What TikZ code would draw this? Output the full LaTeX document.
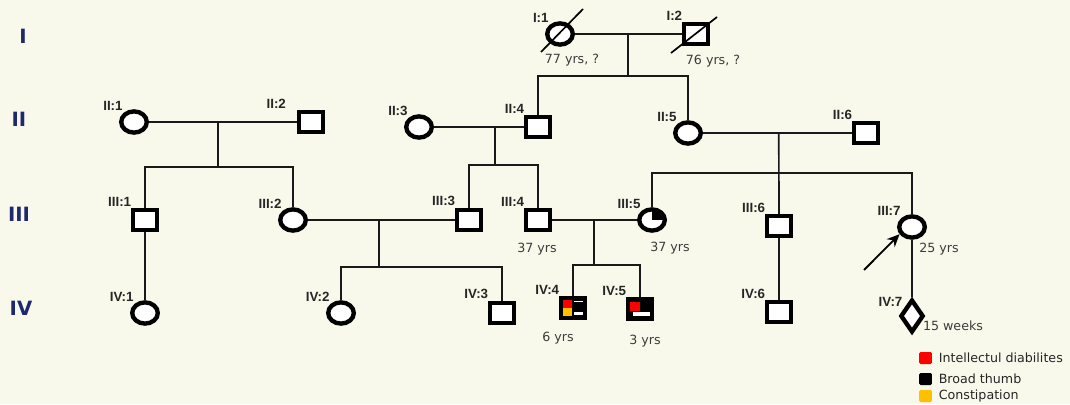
\documentclass[tikz,border=0pt]{standalone}
\usepackage{fontspec}
\setmainfont{DejaVu Sans}
\newfontfamily\idfont{Liberation Sans}
\usetikzlibrary{shapes.geometric, arrows.meta, positioning, calc}

\definecolor{paper}{RGB}{249,249,235}
\definecolor{gennavy}{RGB}{30,40,110}
\definecolor{traitred}{RGB}{255,0,0}
\definecolor{traityellow}{RGB}{255,192,0}
\definecolor{agegray}{RGB}{60,60,60}

\tikzstyle{male} = [
    rectangle,
    minimum width=0.6cm,
    minimum height=0.5cm,
    inner sep=0pt,
    line width=3.1pt,
    draw=black,
    fill=white
]
\tikzstyle{female} = [
    ellipse,
    minimum width=0.64cm,
    minimum height=0.53cm,
    inner sep=0pt,
    line width=3.1pt,
    draw=black,
    fill=white
]
\tikzstyle{unknown} = [
    diamond,
    minimum width=0.58cm,
    minimum height=0.82cm,
    inner sep=0pt,
    line width=3.1pt,
    draw=black,
    fill=white
]
\tikzstyle{idlabel} = [
    font=\idfont\bfseries\fontsize{9.5}{10}\selectfont,
    inner sep=1pt,
    text=black!85
]
\tikzstyle{age} = [font=\fontsize{9}{10}\selectfont, text=agegray, anchor=base, inner sep=0pt]
\tikzstyle{gen} = [font=\bfseries\fontsize{14}{16}\selectfont, text=gennavy]
\tikzstyle{line} = [line width=1.2pt, draw=black!90]
\tikzstyle{slash} = [line width=1.2pt, draw=black]
\tikzstyle{arrow} = [line width=1.3pt,-{Stealth[length=9pt,width=8pt]}]
\tikzstyle{keybox} = [rectangle, rounded corners=1pt, minimum width=0.32cm, minimum height=0.3cm, inner sep=0pt]
\tikzstyle{keytext} = [font=\fontsize{9}{10}\selectfont, inner sep=0pt, text=black!85]

\begin{document}
\begin{tikzpicture}[x=0.025cm, y=-0.025cm]

\fill[paper] (0,0) rectangle (1070,404);
\useasboundingbox (0,0) rectangle (1070,404);

% generation numbers
\node (genI) [gen] at (23,36) {I};
\node (genII) [gen] at (19,119) {II};
\node (genIII) [gen] at (19,214) {III};
\node (genIV) [gen] at (21,308) {IV};

% generation I
\node (I1) [female, label={[idlabel]above left:{I:1}}] at (560,34) {};
\node (I2) [male, label={[idlabel]above left:{I:2}}] at (696,34) {};
\draw [slash] ($(I1)+(-19,18)$) -- ($(I1)+(23,-25)$);
\draw [slash] ($(I2)+(-25,19)$) -- ($(I2)+(21,-17)$);
\node (ageI1) [age] at (572,63) {77 yrs, ?};
\node (ageI2) [age] at (713,64) {76 yrs, ?};

% generation II
\node (II1) [female, label={[idlabel]above left:{II:1}}] at (134,122) {};
\node (II2) [male, label={[idlabel, xshift=-8pt]above left:{II:2}}] at (311,122) {};
\node (II3) [female, label={[idlabel]above left:{II:3}}] at (419,127) {};
\node (II4) [male, label={[idlabel]above left:{II:4}}] at (538,127) {};
\node (II5) [female, label={[idlabel]above left:{II:5}}] at (688,133) {};
\node (II6) [male, label={[idlabel]above left:{II:6}}] at (866,133) {};

% generation III
\node (III1) [male, label={[idlabel]above left:{III:1}}] at (145,220) {};
\node (III2) [female, label={[idlabel]above left:{III:2}}] at (293,220) {};
\node (III3) [male, label={[idlabel]above left:{III:3}}] at (469,220) {};
\node (III4) [male, label={[idlabel]above left:{III:4}}] at (538,220) {};
\node (III5) [female, label={[idlabel]above left:{III:5}},
    path picture={\fill[black] (path picture bounding box.center) rectangle (path picture bounding box.north east);}]
    at (652,220) {};
\node (III6) [male, label={[idlabel]above left:{III:6}}] at (779,226) {};
\node (III7) [female, label={[idlabel]above left:{III:7}}] at (912,227) {};
\node (ageIII4) [age] at (537,252) {37 yrs};
\node (ageIII5) [age] at (670,251) {37 yrs};
\node (ageIII7) [age] at (939,252) {25 yrs};

% generation IV
\node (IV1) [female, label={[idlabel]above left:{IV:1}}] at (145,313) {};
\node (IV2) [female, label={[idlabel]above left:{IV:2}}] at (341,313) {};
\node (IV3) [male, label={[idlabel]above left:{IV:3}}] at (502,313) {};
\node (IV4) [male, fill=black, label={[idlabel]above left:{IV:4}},
    path picture={
        \fill[traitred] ($(path picture bounding box.north west)+(2,2)$) rectangle ($(path picture bounding box.center)+(-1,0)$);
        \fill[traityellow] ($(path picture bounding box.south west)+(2,-2)$) rectangle ($(path picture bounding box.center)+(-1,0)$);
        \fill[white] ($(path picture bounding box.center)+(1,-7)$) rectangle ($(path picture bounding box.center)+(10,-6)$);
        \fill[white] ($(path picture bounding box.center)+(1,4)$) rectangle ($(path picture bounding box.center)+(10,7)$);
    }] at (573,308) {};
\node (IV5) [male, fill=black, label={[idlabel]above left:{IV:5}},
    path picture={
        \fill[traitred] ($(path picture bounding box.north west)+(2,2.5)$) rectangle ($(path picture bounding box.center)+(0,2)$);
        \fill[white] ($(path picture bounding box.center)+(-7,2.5)$) rectangle ($(path picture bounding box.center)+(9.5,7)$);
    }] at (640,309) {};
\node (IV6) [male, label={[idlabel]above left:{IV:6}}] at (779,312) {};
\node (IV7) [unknown, label={[idlabel]above left:{IV:7}}] at (912,316) {};
\node (ageIV4) [age] at (558,341) {6 yrs};
\node (ageIV5) [age] at (645,344) {3 yrs};
\node (ageIV7) [age] at (953,330) {15 weeks};

% couples and sibships
\coordinate (mI) at ($(I1)!0.5!(I2)$);
\coordinate (sI) at ($(mI)+(0,42)$);
\draw [line] (I1) -- (I2);
\draw [line] (mI) -- (sI);
\draw [line] (II4) |- (sI) -| (II5);

\coordinate (mII12) at ($(II1)!0.475!(II2)$);
\coordinate (sII12) at ($(mII12)+(0,45)$);
\draw [line] (II1) -- (II2);
\draw [line] (mII12) -- (sII12);
\draw [line] (III1) |- (sII12) -| (III2);

\coordinate (mII34) at ($(II3)!0.64!(II4)$);
\coordinate (sII34) at ($(mII34)+(0,38)$);
\draw [line] (II3) -- (II4);
\draw [line] (mII34) -- (sII34);
\draw [line] (III3) |- (sII34) -| (III4);

\coordinate (mII56) at ($(II5)!0.51!(II6)$);
\coordinate (sII56) at ($(mII56)+(0,40)$);
\draw [line] (II5) -- (II6);
\draw [line] (mII56) -- (III6);
\draw [line] (III5) |- (sII56) -| (III7);

\coordinate (mIII23) at ($(III2)!0.49!(III3)$);
\coordinate (sIII23) at ($(mIII23)+(0,47)$);
\draw [line] (III2) -- (III3);
\draw [line] (mIII23) -- (sIII23);
\draw [line] (IV2) |- (sIII23) -| (IV3);

\coordinate (mIII45) at ($(III4)!0.49!(III5)$);
\coordinate (sIII45) at ($(mIII45)+(0,45)$);
\draw [line] (III4) -- (III5);
\draw [line] (mIII45) -- (sIII45);
\draw [line] (IV4) |- (sIII45) -| (IV5);

\draw [line] (III1) -- (IV1);
\draw [line] (III6) -- (IV6);
\draw [line] (III7) -- (IV7);

% proband
\coordinate (proband) at (864,270);
\draw [arrow] (proband) -- (III7.210);

% legend
\node (keyR) [keybox, fill=traitred] at (925.5,358) {};
\node (keyB) [keybox, fill=black] at (925.5,379) {};
\node (keyY) [keybox, fill=traityellow] at (925.5,396) {};
\node (txtR) [keytext, right=4.5pt of keyR] {Intellectul diabilites};
\node (txtB) [keytext, right=4.5pt of keyB] {Broad thumb};
\node (txtY) [keytext, right=4.5pt of keyY] {Constipation};

\end{tikzpicture}
\end{document}
